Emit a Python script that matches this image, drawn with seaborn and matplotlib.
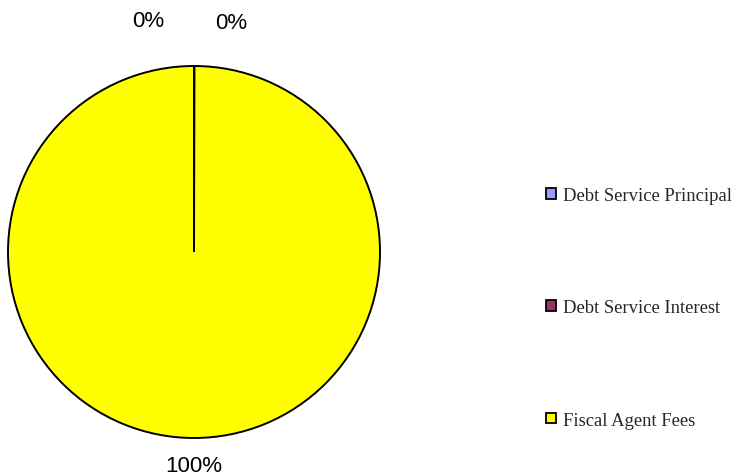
import matplotlib
matplotlib.use("Agg")
import matplotlib.pyplot as plt
from matplotlib.patches import Patch
import seaborn as sns

# Expense categories and their amounts
categories = ["Debt Service Principal", "Debt Service Interest", "Fiscal Agent Fees"]
values = [0.02, 0.02, 100.0]
colors = ["#9999FF", "#993366", "#FFFF00"]

sns.set_theme(style="white")
palette = sns.color_palette(colors)

fig = plt.figure(figsize=(7.34, 4.77), dpi=100)
ax = fig.add_axes([8 / 734, 38 / 477, 372 / 734, 372 / 477])

wedges, _ = ax.pie(
    values,
    colors=palette,
    startangle=90,
    counterclock=False,
    wedgeprops=dict(edgecolor="black", linewidth=1.4),
    radius=1.0,
)
ax.set_aspect("equal")
ax.set_xlim(-1, 1)
ax.set_ylim(-1, 1)

# Percentage labels placed around the pie
total = sum(values)
pct_labels = [f"{v / total * 100:.0f}%" for v in values]
label_pos = [(-0.245, 1.247), (0.200, 1.236), (0.0, -1.148)]
for txt, (x, y) in zip(pct_labels, label_pos):
    ax.text(x, y, txt, ha="center", va="center", fontsize=16,
            family="Liberation Sans", color="black", clip_on=False)

handles = [Patch(facecolor=c, edgecolor="black", linewidth=1.3) for c in palette]
fig.legend(
    handles, categories,
    loc="upper left", bbox_to_anchor=(546 / 734, 1 - 188 / 477),
    frameon=False,
    prop=dict(family="Liberation Serif", size=13.4),
    handlelength=0.52, handleheight=0.52, handletextpad=0.38,
    labelspacing=5.12, borderaxespad=0, borderpad=0,
)

fig.savefig("out.png", dpi=100)
